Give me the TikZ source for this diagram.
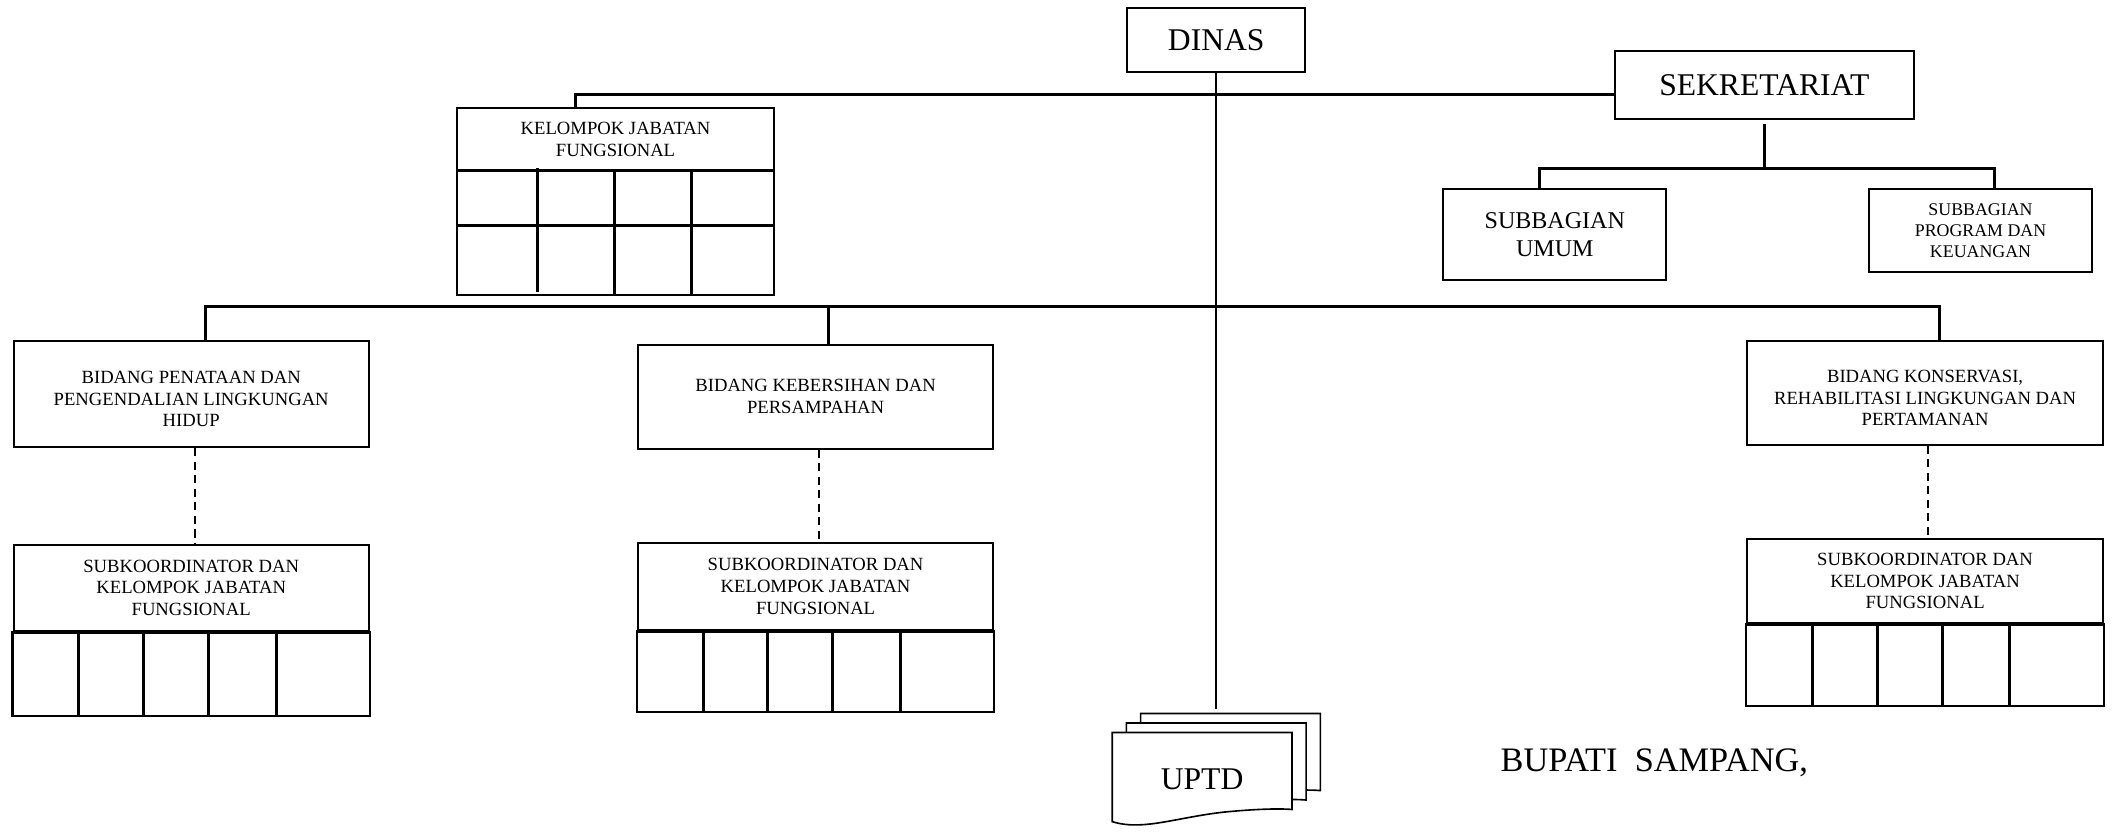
\documentclass[tikz,border=0pt]{standalone}
\usepackage{fontspec}
\setmainfont{Liberation Serif}
\usetikzlibrary{calc}

\tikzset{
    unitbox/.style={draw, line width=0.75pt, inner sep=1pt, align=center, fill=white},
    smallbox/.style={unitbox, font=\fontsize{6.9}{8}\selectfont},
    largebox/.style={unitbox, font=\fontsize{11.7}{14}\selectfont},
    outline/.style={line width=0.75pt},
    gridline/.style={line width=1.1pt},
    conn/.style={line width=1.1pt},
    subconn/.style={line width=0.75pt, dash pattern=on 3pt off 2pt},
    docshape/.style={draw, line width=0.6pt, fill=white}
}

\begin{document}
\begin{tikzpicture}[x=0.5pt, y=-0.5pt]
    \useasboundingbox (0,0) rectangle (1568,615);

    % top level
    \node[largebox, minimum width=66pt, minimum height=23.5pt] (dinas) at (900,29.5) {DINAS};
    \node[largebox, minimum width=110.5pt, minimum height=25pt] (sekr) at (1305.5,63) {SEKRETARIAT};
    \node[unitbox, font=\fontsize{8.9}{10.5}\selectfont, minimum width=82.5pt, minimum height=33.5pt] (umum) at (1150.5,173.5) {SUBBAGIAN\\UMUM};
    \node[unitbox, font=\fontsize{6.6}{7.8}\selectfont, minimum width=82.5pt, minimum height=30.5pt] (prog) at (1465.5,170.5) {SUBBAGIAN\\PROGRAM DAN\\KEUANGAN};
    \node[smallbox, minimum width=117.5pt, minimum height=23pt] (kjf) at (455.5,103) {KELOMPOK JABATAN\\FUNGSIONAL};

    % grid under kelompok jabatan fungsional
    \draw[outline] (338,126) rectangle (573,218);
    \draw[gridline] (338,126) -- (573,126);
    \draw[gridline] (338,167) -- (573,167);
    \foreach \x/\ya/\yb in {398/124/216, 455/126/218, 512/126/218}
        \draw[gridline] (\x,\ya) -- (\x,\yb);

    % bidang
    \node[smallbox, minimum width=131.5pt, minimum height=39.5pt] (penataan) at (141.5,291.5) {\rule{0pt}{8.5pt}BIDANG PENATAAN DAN\\PENGENDALIAN LINGKUNGAN\\HIDUP};
    \node[smallbox, minimum width=131.5pt, minimum height=38.5pt] (kebersihan) at (603.5,293.5) {BIDANG KEBERSIHAN DAN\\PERSAMPAHAN};
    \node[smallbox, minimum width=131.5pt, minimum height=38.5pt] (konservasi) at (1424.5,290.5) {\rule{0pt}{8.5pt}BIDANG KONSERVASI,\\REHABILITASI LINGKUNGAN DAN\\PERTAMANAN};

    % subkoordinator
    \node[smallbox, minimum width=131.5pt, minimum height=32pt] (subA) at (141.5,435) {SUBKOORDINATOR DAN\\KELOMPOK JABATAN\\FUNGSIONAL};
    \node[smallbox, minimum width=131.5pt, minimum height=32pt] (subB) at (603.5,434) {SUBKOORDINATOR DAN\\KELOMPOK JABATAN\\FUNGSIONAL};
    \node[smallbox, minimum width=131.5pt, minimum height=31pt] (subC) at (1424.5,430) {SUBKOORDINATOR DAN\\KELOMPOK JABATAN\\FUNGSIONAL};

    \foreach \b/\h in {subA/62, subB/60, subC/61} {
        \draw[outline] (\b.south west) rectangle ($(\b.south east)+(0,\h)$);
        \foreach \a in {49, 97, 145, 195}
            \draw[gridline] ($(\b.south west)+(\a,0)$) -- ++(0,\h);
        \draw[line width=1.5pt] (\b.south west) -- (\b.south east);
    }

    % connectors
    \coordinate (uptdtop) at (900,525);
    \draw[line width=0.6pt] (dinas) -- (uptdtop);
    \draw[conn] ([xshift=-14.75pt]kjf.north) |- ([yshift=-3.5pt]sekr.west);
    \draw[conn] ([yshift=-1.5pt]sekr.south) -- ++(0,33) coordinate (sbus);
    \draw[conn] ([xshift=-5.75pt]umum.north) |- ([xshift=5.25pt]prog.north |- sbus) -- ([xshift=5.25pt]prog.north);
    \coordinate (bus) at (900,227);
    \draw[conn] ([xshift=5.25pt]penataan.north) |- ([xshift=5.25pt]konservasi.north |- bus) -- ([xshift=5.25pt]konservasi.north);
    \draw[conn] ([xshift=4.75pt]kebersihan.north) -- ([xshift=4.75pt]kebersihan.north |- bus);
    \foreach \u/\l in {penataan/subA, kebersihan/subB, konservasi/subC}
        \draw[subconn] ([xshift=1.25pt]\u.south) -- ([xshift=1.25pt]\l.north);

    % uptd
    \foreach \s in {2,1,0}
        \draw[docshape, xshift=\s*5.25pt, yshift=\s*3.5pt] (823,542) -- (956,542) -- (956,599)
            .. controls (945,598) and (925,599) .. (905,601)
            .. controls (870,605) and (845,615) .. (823,608) -- cycle;
    \node[font=\fontsize{11.7}{14}\selectfont] (uptd) at (889.5,577) {UPTD};

    \node[font=\fontsize{12.7}{14}\selectfont, anchor=base west, inner sep=0pt] (bupati) at (1110,571) {BUPATI\ \ SAMPANG,};
\end{tikzpicture}
\end{document}
